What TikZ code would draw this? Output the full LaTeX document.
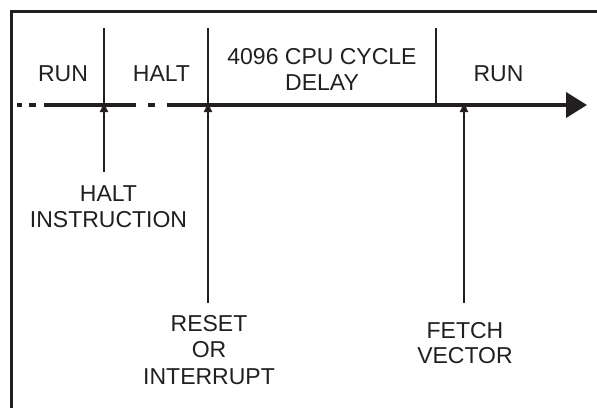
\documentclass[tikz,border=0pt]{standalone}
\usepackage{fontspec}
\setmainfont{Liberation Sans}
\usetikzlibrary{arrows.meta}
\definecolor{ink}{HTML}{231F20}
\begin{document}
\begin{tikzpicture}[x=1bp,y=-1bp,
  every node/.style={text=ink},
  lbl/.style={font=\fontsize{23bp}{26.5bp}\selectfont, align=center, inner sep=0pt, anchor=north},
  lbltight/.style={lbl, font=\fontsize{23bp}{25.5bp}\selectfont},
  frame/.style={draw=ink, line width=3bp},
  tl/.style={draw=ink, line width=4bp},
  divider/.style={draw=ink, line width=2.6bp},
  marker/.style={draw=ink, line width=2.6bp, -{Triangle[length=9bp,width=8bp]}}
]
\useasboundingbox (0,0) rectangle (597,407);
\fill[white] (0,0) rectangle (597,407);
% frame
\draw[frame] (11,410) -- (11,11) -- (600,11);

% timeline coordinates
\coordinate (t1) at (104,105);
\coordinate (t2) at (208,105);
\coordinate (t3) at (436,105);
\coordinate (t4) at (464,105);
\coordinate (tend) at (587,105);

% timeline
\draw[tl] (17,105) -- (22,105);
\draw[tl] (29,105) -- (36,105);
\draw[tl] (44,105) -- (136,105);
\draw[tl] (148,105) -- (155,105);
\draw[tl, -{Triangle[length=21bp,width=25bp]}] (167,105) -- (tend);

% dividers
\coordinate (d1) at (104,28);
\coordinate (d2) at (208,28);
\coordinate (d3) at (436,28);
\draw[divider] (d1) -- (t1);
\draw[divider] (d2) -- (t2);
\draw[divider] (d3) -- (t3);

% phase labels
\node[lbl] (run1) at (63,65) {RUN};
\node[lbl] (halt1) at (161.5,65) {HALT};
\node[lbltight] (delay) at (322,48.3) {4096 CPU CYCLE\\DELAY};
\node[lbl] (run2) at (498.5,65) {RUN};

% event labels
\node[lbl] (haltinst) at (108.5,185) {HALT\\INSTRUCTION};
\node[lbl] (reset) at (209,315) {RESET\\OR\\INTERRUPT};
\node[lbltight] (fetch) at (465,322) {FETCH\\VECTOR};

% event arrows
\coordinate (a1) at (104,172);
\coordinate (a2) at (208,303);
\coordinate (a3) at (464,303);
\draw[marker] (a1) -- ([yshift=2bp]t1);
\draw[marker] (a2) -- ([yshift=2bp]t2);
\draw[marker] (a3) -- ([yshift=2bp]t4);
\end{tikzpicture}
\end{document}
